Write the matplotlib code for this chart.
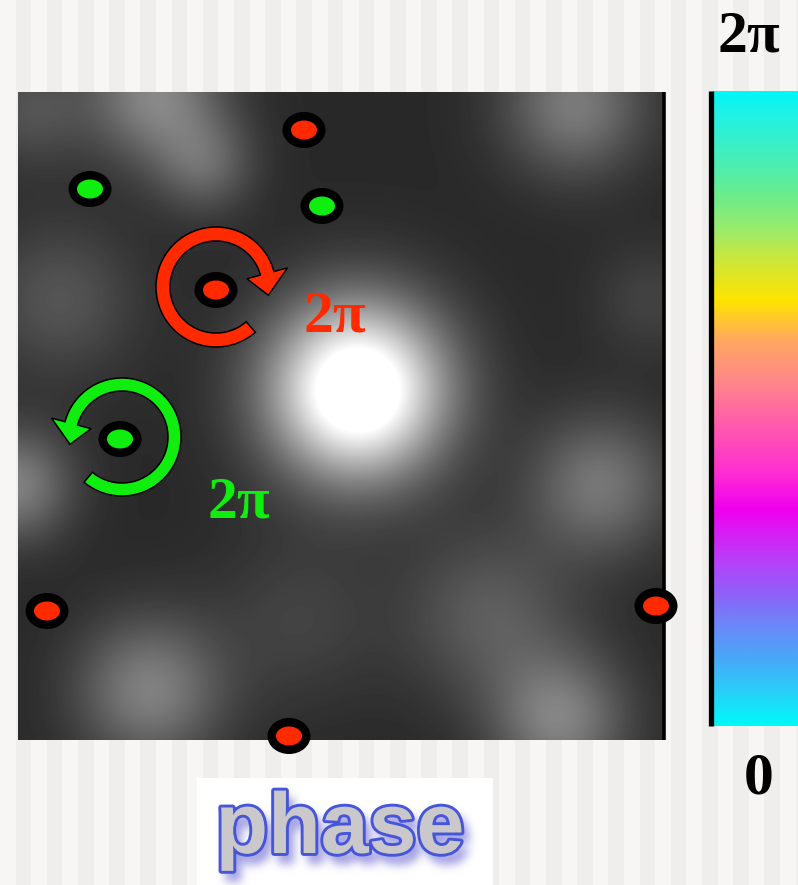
import numpy as np
import matplotlib
matplotlib.use("Agg")
import matplotlib.pyplot as plt
from matplotlib.patches import Ellipse, Polygon, Rectangle
from matplotlib.colors import LinearSegmentedColormap, to_rgb
import matplotlib.patheffects as pe

# ---- intensity field: dark background plus smooth bright speckles ----
field_extent = (18, 665, 740, 92)          # left, right, bottom, top (pixels)
field_base = 0.16
blob_x     = [358, 155, 205,  30, 575,  60,  15, 150, 490, 600, 560, 300, 650]
blob_y     = [390,  95, 165, 110, 105, 300, 485, 690, 615, 485, 720, 620, 300]
blob_amp   = [1.05, 0.36, 0.22, 0.16, 0.32, 0.17, 0.34, 0.34, 0.20, 0.30, 0.34, 0.10, 0.10]
blob_sigma = [62,  48,  35,  40,  50,  55,  40,  52,  60,  50,  48,  60,  40]

# ---- phase singularities (vortex positions) ----
red_x   = [304, 216,  47, 656, 289]
red_y   = [130, 290, 611, 606, 736]
green_x = [ 90, 322, 120]
green_y = [189, 206, 439]

# ---- colour scale for phase 0 .. 2pi (bottom to top) ----
phase_stops  = [0.0, 0.052, 0.104, 0.156, 0.208, 0.260, 0.340, 0.403, 0.482,
                0.545, 0.608, 0.671, 0.740, 0.780, 0.838, 0.890, 0.969, 1.0]
phase_colors = ["#00f8f8", "#28d0f8", "#48a8f8", "#6a88f8", "#9060f8", "#b840f8",
                "#f000f0", "#ff30d0", "#ff60a8", "#ff8888", "#ffa860", "#ffe400",
                "#c8e840", "#9eea6a", "#6aec8c", "#4aeeb4", "#1ef2e8", "#00f8f8"]
cbar_extent = (713, 798, 726, 91)
cbar_labels = ["2\u03c0", "0"]
winding_label = "2\u03c0"
title_text = "phase"

RED = "#ff2a00"
GREEN = "#10ee10"
STRIPE_A, STRIPE_B = "#f7f6f4", "#efeeec"
W, H = 798, 885

serif = ["Liberation Serif", "DejaVu Serif"]
sans = ["Liberation Sans", "DejaVu Sans"]
title_kw = dict(fontsize=62, fontweight="bold", family=sans, ha="center", va="baseline")


def make_axes(fig):
    a = fig.add_axes([0, 0, 1, 1])
    a.axis("off")
    a.set_xlim(0, W)
    a.set_ylim(H, 0)
    return a


# soft drop shadow for the caption: rasterise the word, then blur it
sfig = plt.figure(figsize=(W / 100, H / 100), dpi=100)
sax = make_axes(sfig)
sax.text(346, 862, title_text, color="black", **title_kw,
         path_effects=[pe.Stroke(linewidth=3, foreground="black"), pe.Normal()])
sfig.canvas.draw()
buf = np.asarray(sfig.canvas.buffer_rgba())[..., 0].astype(float)
plt.close(sfig)
box = (197, 493, 778, 885)
mask = 1.0 - buf[box[2]:box[3], box[0]:box[1]] / 255.0
sig = 4.5
k = np.arange(-14, 15)
kern = np.exp(-k ** 2 / (2 * sig ** 2))
kern /= kern.sum()
pad = np.pad(mask, 14)
pad = np.apply_along_axis(lambda r: np.convolve(r, kern, mode="same"), 1, pad)
pad = np.apply_along_axis(lambda c: np.convolve(c, kern, mode="same"), 0, pad)
blur = pad[14:-14, 14:-14]
shadow = np.zeros(blur.shape + (4,))
shadow[..., :3] = to_rgb("#8480d8")
shadow[..., 3] = np.clip(blur * 0.75, 0, 1)

fig = plt.figure(figsize=(W / 100, H / 100), dpi=100)
ax = make_axes(fig)

# striped page background
stripe_w = 15.6
for i in range(int(W / stripe_w) + 2):
    ax.axvspan(i * stripe_w, (i + 1) * stripe_w,
               color=STRIPE_A if i % 2 == 0 else STRIPE_B, lw=0, zorder=0)

# intensity image
xs = np.arange(field_extent[0], field_extent[1]) + 0.5
ys = np.arange(field_extent[3], field_extent[2]) + 0.5
X, Y = np.meshgrid(xs, ys)
I = np.full_like(X, field_base)
for cx, cy, a, s in zip(blob_x, blob_y, blob_amp, blob_sigma):
    I += a * np.exp(-((X - cx) ** 2 + (Y - cy) ** 2) / (2 * s ** 2))
I = np.clip(I, 0, 1)
ax.imshow(I, cmap="gray", vmin=0, vmax=1, extent=field_extent,
          interpolation="bilinear", aspect="auto", zorder=1)
ax.plot([663.5, 663.5], [92, 740], color="black", lw=2.6, zorder=2,
        solid_capstyle="butt")

# phase colour bar
cmap = LinearSegmentedColormap.from_list("phase", list(zip(phase_stops, phase_colors)))
grad = np.linspace(2 * np.pi, 0, 512)[:, None]
ax.imshow(grad, cmap=cmap, vmin=0, vmax=2 * np.pi, extent=cbar_extent,
          interpolation="bilinear", aspect="auto", zorder=1)
ax.plot([710.5, 710.5], [91, 726], color="black", lw=3.8, zorder=2,
        solid_capstyle="butt")

ax.text(717, 52, cbar_labels[0], fontsize=43, fontweight="bold", family=serif,
        ha="left", va="baseline", color="black", zorder=5)
ax.text(744, 793, cbar_labels[1], fontsize=43, fontweight="bold", family=serif,
        ha="left", va="baseline", color="black", zorder=5)


def curved_arrow(cx, cy, r_in, r_out, th_tail, th_base, th_tip, color):
    """Ring-shaped arrow; angles in degrees, counter-clockwise on screen."""
    def pt(r, th):
        t = np.deg2rad(th)
        return (cx + r * np.cos(t), cy - r * np.sin(t))
    arc = np.linspace(th_tail, th_base, 120)
    outer = [pt(r_out, t) for t in arc]
    inner = [pt(r_in, t) for t in arc[::-1]]
    mid = 0.5 * (r_in + r_out)
    half = 0.5 * (r_out - r_in)
    head = [pt(mid + half + 14, th_base), pt(mid, th_tip), pt(mid - half - 14, th_base)]
    verts = outer + head + inner
    ax.add_patch(Polygon(verts, closed=True, fc=color, ec="black", lw=1.1, zorder=4))


# winding arrows around two vortices
curved_arrow(216, 287, 46, 60, -49, -345, -369, RED)
curved_arrow(122, 437, 46, 59, 230, 525, 548, GREEN)

ax.text(304, 331, winding_label, fontsize=43, fontweight="bold", family=serif,
        ha="left", va="baseline", color=RED, zorder=5)
ax.text(208, 518, winding_label, fontsize=43, fontweight="bold", family=serif,
        ha="left", va="baseline", color=GREEN, zorder=5)

# vortex markers
for xs_, ys_, col in ((red_x, red_y, RED), (green_x, green_y, GREEN)):
    for x, y in zip(xs_, ys_):
        ax.add_patch(Ellipse((x, y), 43, 36, fc="black", ec="none", zorder=6,
                             clip_on=False))
        ax.add_patch(Ellipse((x, y), 26, 19, fc=col, ec="none", zorder=7,
                             clip_on=False))

# caption box with blurred shadow and outlined word
ax.add_patch(Rectangle((box[0], box[2]), box[1] - box[0], box[3] - box[2],
                       fc="white", ec="none", zorder=3))
ax.imshow(shadow, extent=(box[0], box[1], box[3], box[2]), aspect="auto",
          interpolation="bilinear", zorder=4)
ax.text(340, 853, title_text, color="#cbc8cc", zorder=5, **title_kw,
        path_effects=[pe.Stroke(linewidth=4.2, foreground="#4656d8"), pe.Normal()])

ax.set_xlim(0, W)
ax.set_ylim(H, 0)
fig.savefig("out.png", dpi=100)
